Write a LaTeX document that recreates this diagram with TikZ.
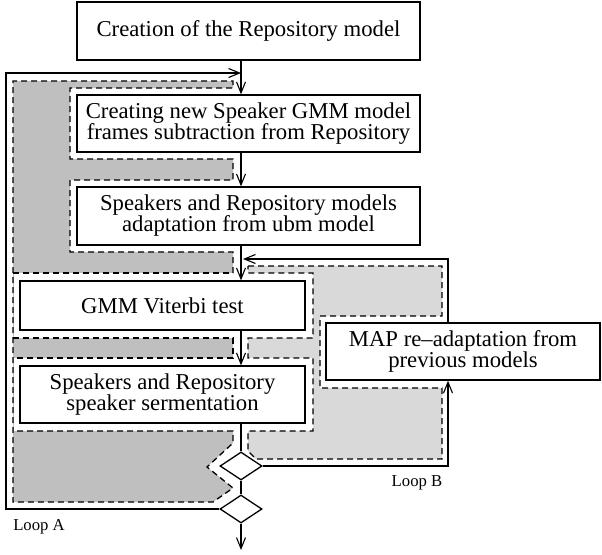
\documentclass[tikz,border=0pt]{standalone}
\usepackage{fontspec}
\setmainfont{Liberation Serif}
\usetikzlibrary{arrows.meta,shapes.geometric}

\definecolor{loopAgray}{gray}{0.75}
\definecolor{loopBgray}{gray}{0.85}

\begin{document}
\begin{tikzpicture}[x=1pt,y=-1pt,line width=1.3pt,
    >={Straight Barb[length=11pt,width=9pt,line width=1.1pt]}]

        \useasboundingbox (0,0) rectangle (602,554);

        % shaded loop regions
        \fill[loopAgray] (13,81) -- (233,81) -- (233,88) -- (70,88) -- (70,159) -- (233,159)
          -- (233,180) -- (70,180) -- (70,252) -- (233,252) -- (233,443) -- (207,467)
          -- (233,488) -- (213,502) -- (13,502) -- cycle;
        \fill[loopBgray] (248,266) -- (442,266) -- (442,316) -- (320,316) -- (320,388)
          -- (442,388) -- (442,459) -- (256,459) -- (248,451) -- cycle;
        \fill[white] (13.8,273) rectangle (313,338);
        \fill[white] (13.8,358) rectangle (313,431);

        \begin{scope}[dash pattern=on 6pt off 4pt]
          \draw (233,273) -- (233,252) -- (70,252) -- (70,180) -- (233,180) -- (233,159)
            -- (70,159) -- (70,88) -- (233,88) -- (233,81) -- (13,81) -- (13,502)
            -- (213,502) -- (233,488) -- (207,467) -- (233,443) -- (233,431) -- (13,431);
          \draw (13,273) -- (233,273);
          \draw (13,338) -- (233,338) -- (233,358) -- (13,358);
          \draw (248,266) -- (442,266) -- (442,316) -- (320,316) -- (320,388) -- (442,388)
            -- (442,459) -- (256,459) -- (248,451) -- (248,431) -- (313,431) -- (313,358)
            -- (248,358) -- (248,338) -- (313,338) -- (313,273) -- (248,273) -- cycle;
        \end{scope}

        \begin{scope}[every node/.style={draw, fill=white, inner sep=0pt, align=center,
            font=\fontsize{22.7}{21}\selectfont}]
          \node[minimum width=343pt, minimum height=58pt] (1) at (248.5,31)
            {Creation of the Repository model};
          \node[minimum width=343pt, minimum height=57pt] (2) at (248.5,123.5)
            {Creating new Speaker GMM model\\frames subtraction from Repository};
          \node[minimum width=343pt, minimum height=58pt] (3) at (248.5,216)
            {Speakers and Repository models\\adaptation from ubm model};
          \node[minimum width=285pt, minimum height=49pt] (4) at (162.5,305.5)
            {GMM Viterbi test};
          \node[minimum width=285pt, minimum height=57pt] (5) at (162.5,394.5)
            {Speakers and Repository\\speaker sermentation};
          \node[minimum width=274pt, minimum height=57pt] (6) at (463,351.5)
            {MAP re–adaptation from\\previous models};
        \end{scope}

        \begin{scope}[every node/.style={diamond, draw, fill=white, inner sep=0pt,
            minimum width=42pt, minimum height=28pt}]
          \node (7) at (241,466) {};
          \node (8) at (241,509) {};
        \end{scope}

        \coordinate (out) at (241,550);
        \coordinate (backA) at (241,73);
        \coordinate (backB) at (243,259);

        \path (1.south -| 7) edge[->] (2.north -| 7);
        \path (2.south -| 7) edge[->] (3.north -| 7);
        \path (3.south -| 7) edge[->] (4.north -| 7);
        \path (4.south -| 7) edge[->] (5.north -| 7);
        \path (5.south -| 7) edge (7.north);
        \path (7.south) edge (8.north);
        \path (8.south) edge[->] (out);

        % loop A
        \draw[->] (8.west) -- (6,509) -- (6,73) -- (backA);
        % loop B
        \draw[->] (7.east) -| (6.south -| 448,0);
        \draw[->] (6.north -| 448,0) |- (backB);

        \begin{scope}[every node/.style={inner sep=0pt, font=\fontsize{16.7}{18}\selectfont}]
          \node (la) at (39,527) {Loop A};
          \node (lb) at (417,483) {Loop B};
        \end{scope}

      \end{tikzpicture}
\end{document}
